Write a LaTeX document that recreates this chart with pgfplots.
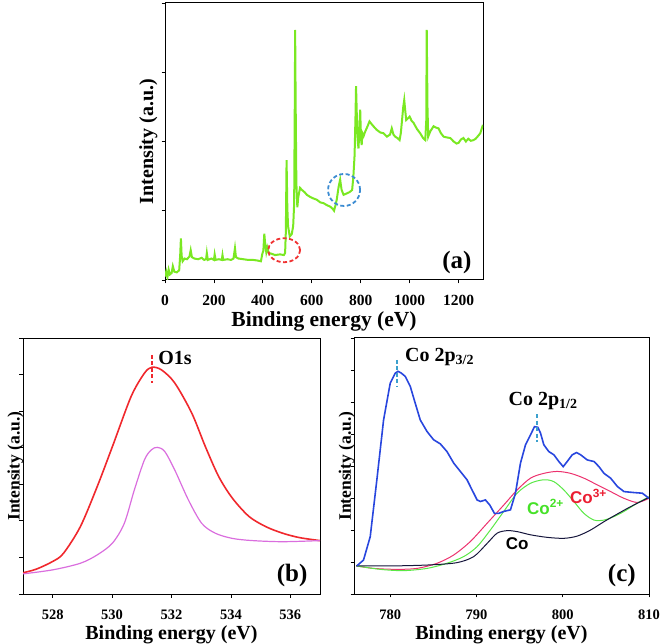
\documentclass[border=0pt]{standalone}
\usepackage{fontspec}
\setmainfont{Liberation Serif}
\newfontfamily\arialfont{Liberation Sans}
\usepackage{pgfplots}
\pgfplotsset{compat=1.18}
\definecolor{cgreenA}{RGB}{122,232,34}
\definecolor{credB}{RGB}{240,40,45}
\definecolor{cvioB}{RGB}{218,110,222}
\definecolor{cblueC}{RGB}{40,70,222}
\definecolor{cpinkC}{RGB}{236,50,110}
\definecolor{cgreenC}{RGB}{90,232,70}
\definecolor{cblackC}{RGB}{22,22,60}
\definecolor{cmark}{RGB}{60,160,205}
\definecolor{cellR}{RGB}{240,50,50}
\definecolor{cellB}{RGB}{60,140,210}
\definecolor{clabG}{RGB}{70,225,40}
\definecolor{clabR}{RGB}{235,30,50}
\pgfplotsset{
  xps/.style={
    scale only axis,
    axis line style={line width=1bp, black},
    every tick/.style={black, line width=0.8bp},
    tick align=outside,
    major tick length=3.5bp,
    xtick pos=left, ytick pos=left,
    yticklabels={},
    /pgf/number format/assume math mode=true,
    /pgf/number format/1000 sep={},
    scaled ticks=false,
    tick label style={font=\bfseries\fontsize{14.5bp}{15bp}\selectfont, inner sep=0pt},
    xticklabel style={anchor=base, yshift=-22bp},
    label style={font=\bfseries\fontsize{20bp}{22bp}\selectfont, inner sep=0pt},
    xlabel={Binding energy (eV)},
    ylabel={Intensity (a.u.)},
    xlabel style={at={(rel axis cs:0.5,0)}, anchor=base, yshift=-45bp},
  }
}
\begin{document}
\begin{tikzpicture}
\useasboundingbox (0,0) rectangle (661bp,644bp);
% ---------------- (a)
\begin{axis}[xps,
  at={(165bp,364bp)}, anchor=south west,
  width=318bp, height=277bp,
  xmin=0, xmax=1300, ymin=0, ymax=4,
  xtick={0,200,400,600,800,1000,1200},
  ytick={0,1,2,3,4},
  tick label style={font=\bfseries\fontsize{15.5bp}{16bp}\selectfont},
  xlabel style={yshift=-2bp, font=\bfseries\fontsize{21.5bp}{22bp}\selectfont},
  ylabel style={at={(rel axis cs:-0.037,0.5)}, anchor=base, rotate=0},
]
\addplot[cgreenA, line width=2bp] coordinates {
(0,0.05) (5,0.12) (10,0.04) (15,0.15) (20,0.08) (27,0.10) (32,0.20) (38,0.12) (48,0.11) (58,0.14) (62,0.35) (65,0.60) (68,0.35) (72,0.27) (80,0.31) (90,0.30) (100,0.34) (105,0.43) (110,0.33) (120,0.31) (135,0.30) (150,0.32) (160,0.29) (168,0.30) (171,0.39) (175,0.29) (190,0.31) (200,0.29) (203,0.37) (207,0.29) (220,0.30) (232,0.29) (235,0.36) (238,0.29) (255,0.30) (270,0.29) (280,0.31) (286,0.46) (290,0.33) (300,0.31) (320,0.30) (340,0.29) (360,0.29) (380,0.28) (392,0.27) (398,0.38) (402,0.42) (406,0.67) (410,0.50) (414,0.40) (418,0.47) (424,0.39) (435,0.38) (450,0.36) (470,0.37) (486,0.36) (491,0.39) (494,0.70) (497,1.73) (500,1.05) (503,0.78) (510,0.63) (518,0.66) (524,0.78) (528,1.1) (531,2.8) (532,3.61) (534,2.6) (537,1.4) (541,1.05) (545,1.2) (552,1.33) (560,1.30) (570,1.27) (580,1.23) (593,1.20) (605,1.18) (620,1.16) (635,1.12) (648,1.11) (662,1.08) (675,1.06) (685,1.03) (691,1.00) (697,1.08) (702,1.16) (710,1.35) (716,1.45) (722,1.30) (730,1.23) (743,1.25) (755,1.27) (765,1.30) (770,1.49) (775,1.80) (779,2.40) (781,2.80) (784,2.40) (788,2.00) (791,1.90) (795,2.20) (798,2.46) (801,2.05) (804,1.95) (807,2.12) (812,2.08) (818,2.14) (828,2.22) (836,2.29) (845,2.25) (852,2.22) (865,2.17) (880,2.13) (893,2.12) (907,2.07) (920,2.10) (927,2.19) (934,2.10) (941,2.07) (950,2.05) (959,2.02) (964,2.12) (968,2.27) (974,2.50) (978,2.60) (982,2.45) (986,2.31) (992,2.33) (1000,2.36) (1008,2.30) (1016,2.27) (1030,2.18) (1043,2.12) (1055,2.05) (1064,2.02) (1068,2.3) (1070,3.61) (1073,2.5) (1076,2.07) (1085,2.15) (1098,2.22) (1108,2.20) (1118,2.19) (1128,2.12) (1139,2.07) (1150,2.06) (1166,2.05) (1180,2.00) (1192,1.97) (1200,1.98) (1210,2.03) (1220,2.05) (1230,2.00) (1240,2.04) (1250,2.01) (1261,2.02) (1270,2.04) (1280,2.08) (1289,2.12) (1296,2.20) (1300,2.24)
};
\draw[cellR, line width=1.8bp, dash pattern=on 4bp off 2.5bp] (axis cs:487,0.43) ellipse [x radius=16bp, y radius=12bp];
\draw[cellB, line width=1.8bp, dash pattern=on 4bp off 2.5bp] (axis cs:732,1.30) ellipse [x radius=16bp, y radius=16bp];
\node[font=\bfseries\fontsize{25bp}{26bp}\selectfont] at (rel axis cs:0.918,0.065) {(a)};
\end{axis}
% ---------------- (b)
\begin{axis}[xps,
  at={(23bp,50bp)}, anchor=south west,
  width=297bp, height=256bp,
  xmin=527, xmax=537, ymin=0, ymax=7,
  xtick={528,530,532,534,536},
  ytick={0,1,2,3,4,5,6,7},
  ylabel style={at={(rel axis cs:-0.011,0.5)}, anchor=base, rotate=0, font=\bfseries\fontsize{17.5bp}{18bp}\selectfont},
]
\addplot[credB, line width=1.6bp, smooth] coordinates {
(527,0.58) (527.45,0.68) (528,0.89) (528.36,1.11) (528.93,1.84) (529.5,2.94) (530.01,4.03) (530.64,5.40) (531.09,6.04) (531.34,6.20) (531.66,6.13) (532.11,5.77) (532.68,4.95) (533.14,4.03) (533.59,3.21) (534.05,2.62) (534.61,2.12) (535.18,1.84) (535.75,1.66) (536.32,1.54) (537,1.46)
};
\addplot[cvioB, line width=1.2bp, smooth] coordinates {
(527,0.55) (528,0.66) (528.93,0.84) (529.5,1.07) (530.01,1.39) (530.41,1.93) (530.75,2.85) (531.09,3.67) (531.32,3.94) (531.52,4.01) (531.77,3.90) (532.11,3.39) (532.57,2.57) (533.02,1.93) (533.48,1.66) (534.05,1.52) (534.73,1.46) (535.75,1.43) (537,1.46)
};
\draw[credB, line width=2bp, dash pattern=on 4bp off 2.5bp] (axis cs:531.34,6.54) -- (axis cs:531.34,5.77);
\node[anchor=west, inner sep=0pt, font=\bfseries\fontsize{20bp}{22bp}\selectfont] at (axis cs:531.55,6.46) {O1s};
\node[font=\bfseries\fontsize{25bp}{26bp}\selectfont] at (rel axis cs:0.906,0.074) {(b)};
\end{axis}
% ---------------- (c)
\begin{axis}[xps,
  at={(354bp,50bp)}, anchor=south west,
  width=295bp, height=256bp,
  xmin=775.8, xmax=810, ymin=0, ymax=8,
  xtick={780,790,800,810},
  ytick={0,1,2,3,4,5,6,7,8},
  ylabel style={at={(rel axis cs:-0.011,0.5)}, anchor=base, rotate=0, font=\bfseries\fontsize{17.5bp}{18bp}\selectfont},
]
\addplot[cpinkC, line width=1bp, smooth] coordinates {
(776.05,0.88) (778.06,0.80) (780.77,0.77) (783.10,0.80) (785.42,0.96) (787.36,1.22) (789.29,1.64) (791.23,2.21) (793.16,2.78) (794.71,3.25) (796.26,3.62) (797.81,3.77) (799.36,3.83) (800.91,3.77) (802.45,3.62) (804.0,3.41) (805.55,3.20) (807.10,2.99) (808.65,2.86) (810,2.99)
};
\addplot[cgreenC, line width=1bp, smooth] coordinates {
(776.05,0.88) (778.84,0.77) (781.55,0.73) (784.26,0.80) (786.58,0.96) (788.52,1.17) (790.07,1.48) (791.61,2.00) (793.16,2.58) (794.71,3.15) (796.26,3.46) (797.81,3.57) (798.97,3.51) (800.13,3.25) (801.29,2.89) (802.45,2.52) (803.62,2.31) (804.78,2.31) (805.94,2.42) (807.10,2.58) (808.65,2.84) (810,3.04)
};
\addplot[cblackC, line width=1bp, smooth] coordinates {
(776.05,0.88) (780.77,0.88) (784.65,0.91) (787.74,0.98) (789.68,1.17) (791.23,1.58) (792.39,1.90) (793.55,1.98) (794.71,1.95) (796.26,1.85) (798.20,1.77) (800.13,1.74) (801.68,1.81) (803.23,2.00) (804.78,2.26) (806.33,2.50) (807.87,2.73) (810,3.02)
};
\addplot[cblueC, line width=1.6bp] coordinates {
(776.13,0.88) (776.90,1.06) (777.68,1.79) (778.45,3.57) (779.23,5.44) (780.0,6.59) (780.58,6.90) (780.9,6.96) (781.3,6.90) (781.74,6.80) (782.32,6.49) (782.90,5.96) (783.48,5.44) (784.26,5.08) (785.03,4.82) (785.81,4.69) (786.58,4.45) (787.36,4.09) (788.13,3.83) (788.90,3.57) (789.49,3.25) (790.07,2.94) (790.45,2.89) (791.03,2.94) (791.54,2.78) (792.08,2.52) (792.58,2.52) (793.16,2.58) (793.94,2.63) (794.52,3.15) (795.10,4.09) (795.68,4.66) (796.26,4.97) (796.72,5.23) (797.11,5.21) (797.42,5.03) (797.81,4.66) (798.39,4.45) (798.97,4.35) (799.55,4.14) (800.05,3.98) (800.52,4.14) (801.10,4.35) (801.60,4.42) (802.07,4.35) (802.84,4.19) (803.62,4.14) (804.20,3.98) (804.78,3.77) (805.55,3.62) (806.33,3.36) (807.10,3.20) (808.26,3.17) (809.23,3.15) (810,2.99)
};
\draw[cmark, line width=2bp, dash pattern=on 4bp off 2.5bp] (axis cs:780.83,7.32) -- (axis cs:780.83,6.49);
\draw[cmark, line width=2bp, dash pattern=on 4bp off 2.5bp] (axis cs:797.03,5.62) -- (axis cs:797.03,4.75);
\node[anchor=west, inner sep=0pt, font=\bfseries\fontsize{20bp}{22bp}\selectfont] at (axis cs:781.7,7.41) {Co 2p\textsubscript{3/2}};
\node[anchor=west, inner sep=0pt, font=\bfseries\fontsize{20bp}{22bp}\selectfont] at (axis cs:793.7,6.03) {Co 2p\textsubscript{1/2}};
\node[text=clabG, font=\arialfont\bfseries\fontsize{17bp}{18bp}\selectfont] at (axis cs:798.0,2.72) {Co\textsuperscript{2+}};
\node[text=clabR, font=\arialfont\bfseries\fontsize{17bp}{18bp}\selectfont] at (axis cs:802.98,3.06) {Co\textsuperscript{3+}};
\node[text=black, font=\arialfont\bfseries\fontsize{17bp}{18bp}\selectfont] at (axis cs:794.73,1.56) {Co};
\node[font=\bfseries\fontsize{25bp}{26bp}\selectfont] at (rel axis cs:0.908,0.074) {(c)};
\end{axis}
\end{tikzpicture}
\end{document}
